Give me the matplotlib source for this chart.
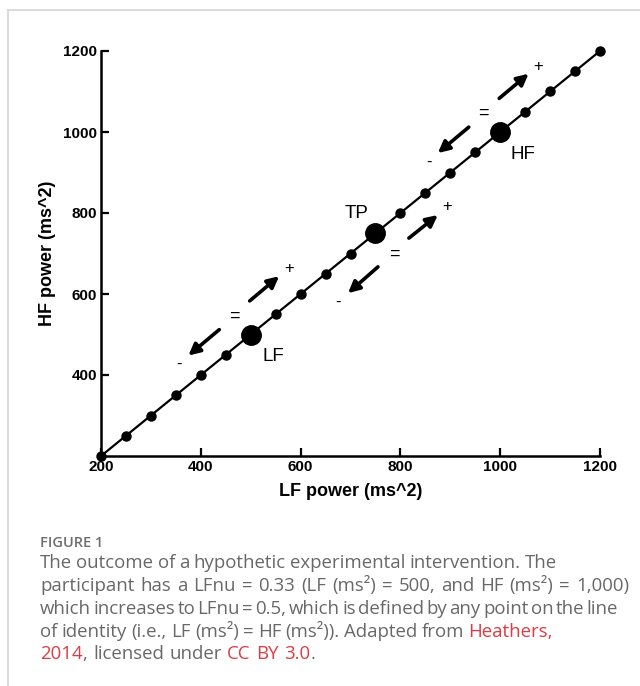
import matplotlib
matplotlib.use("Agg")
import matplotlib.pyplot as plt
import numpy as np
from matplotlib.lines import Line2D

# data: line of identity with a dot every 50 ms^2
lf_points = list(range(200, 1201, 50))
hf_points = list(range(200, 1201, 50))
key_names = ['LF', 'TP', 'HF']
key_lf = [500, 750, 1000]
key_hf = [500, 750, 1000]

x_ticks = [200, 400, 600, 800, 1000, 1200]
y_ticks = [400, 600, 800, 1000, 1200]

# annotation offsets (data units) relative to each key point:
# (up tail, up head, plus, equals, down tail, down head, minus, label)
offsets = {
    'LF': [(-2, 83), (57, 144), (77, 162), (-33, 45), (-63, 12), (-125, -52), (-143, -74), (45, -55)],
    'TP': [(67, -12), (125, 45), (143, 65), (37, -51), (5, -83), (-55, -148), (-75, -170), (-37, 50)],
    'HF': [(-2, 83), (57, 144), (77, 162), (-33, 45), (-63, 12), (-125, -52), (-143, -74), (45, -55)],
}

W, H = 640, 686
fig = plt.figure(figsize=(W / 100, H / 100), dpi=100)
ax = fig.add_axes([101 / W, 1 - 456 / H, (600 - 101) / W, (456 - 51) / H])

ax.plot(lf_points, hf_points, color='black', lw=1.6, marker='o', ms=6.5,
        clip_on=False, zorder=3)
ax.plot(key_lf, key_hf, 'o', color='black', ms=14, clip_on=False, zorder=4)

for name, x0, y0 in zip(key_names, key_lf, key_hf):
    o = offsets[name]
    ax.annotate('', xy=(x0 + o[1][0], y0 + o[1][1]), xytext=(x0 + o[0][0], y0 + o[0][1]),
                arrowprops=dict(arrowstyle='-|>', lw=2.6, color='black', mutation_scale=17,
                                shrinkA=0, shrinkB=0))
    ax.annotate('', xy=(x0 + o[5][0], y0 + o[5][1]), xytext=(x0 + o[4][0], y0 + o[4][1]),
                arrowprops=dict(arrowstyle='-|>', lw=2.6, color='black', mutation_scale=17,
                                shrinkA=0, shrinkB=0))
    ax.text(x0 + o[2][0], y0 + o[2][1], '+', ha='center', va='center', fontsize=12,
            family='Liberation Sans')
    ax.text(x0 + o[3][0], y0 + o[3][1], '=', ha='center', va='center', fontsize=13,
            family='Liberation Sans')
    ax.text(x0 + o[6][0], y0 + o[6][1], '-', ha='center', va='center', fontsize=12,
            family='Liberation Sans')
    ax.text(x0 + o[7][0], y0 + o[7][1], name, ha='center', va='center', fontsize=13.5,
            family='Liberation Sans')

ax.set_xlim(200, 1200)
ax.set_ylim(200, 1200)
ax.set_xticks(x_ticks)
ax.set_yticks(y_ticks)
for s in ['top', 'right']:
    ax.spines[s].set_visible(False)
for s in ['left', 'bottom']:
    ax.spines[s].set_linewidth(1.8)
ax.tick_params(direction='in', length=6, width=1.6, pad=3)
for lab in ax.get_xticklabels() + ax.get_yticklabels():
    lab.set_family('Liberation Sans')
    lab.set_fontweight('bold')
    lab.set_fontsize(11)
ax.set_xlabel('LF power (ms^2)', family='Liberation Sans', fontweight='bold', fontsize=13, labelpad=6)
ax.set_ylabel('HF power (ms^2)', family='Liberation Sans', fontweight='bold', fontsize=13, labelpad=5)

# page frame lines
fig.add_artist(Line2D([8 / W, 1], [1 - 10 / H, 1 - 10 / H], color='#d4d4d4', lw=1.2))
fig.add_artist(Line2D([8 / W, 8 / W], [0, 1 - 10 / H], color='#d4d4d4', lw=1.2))

# caption
gray = '#686868'
red = '#dc3c42'
cap_font = 'Open Sans'
cap_size = 13.4
fig.text(40 / W, 1 - 547 / H, 'FIGURE 1', color='#6e6e6e', fontsize=10.5, family=cap_font,
         fontweight='semibold', va='baseline')

caption_lines = [
    [('The outcome of a hypothetic experimental intervention. The', gray)],
    [('participant has a LFnu = 0.33 (LF (ms²) = 500, and HF (ms²) = 1,000)', gray)],
    [('which increases to LFnu = 0.5, which is defined by any point on the line', gray)],
    [('of identity (i.e., LF (ms²) = HF (ms²)). Adapted from ', gray), ('Heathers,', red)],
    [('2014', red), (', licensed under ', gray), ('CC BY 3.0', red), ('.', gray)],
]
baselines = [568, 591, 614, 637, 659]
line_ends = [557, 629, 618, 553, 315]

fig.canvas.draw()
renderer = fig.canvas.get_renderer()


def text_width(s):
    t = fig.text(0, 0, s, fontsize=cap_size, family=cap_font)
    w = t.get_window_extent(renderer).width
    t.remove()
    return w


for runs, yb, x_end in zip(caption_lines, baselines, line_ends):
    tokens = []
    for txt, col in runs:
        parts = txt.split(' ')
        for i, p in enumerate(parts):
            if i > 0:
                tokens.append((' ', None))
            if p:
                tokens.append((p, col))
    words = [(s, c, text_width(s)) for s, c in tokens if c is not None]
    n_gaps = sum(1 for s, c in tokens if c is None)
    gap = (x_end - 40 - sum(w for _, _, w in words)) / max(n_gaps, 1)
    x = 40
    for s, c in tokens:
        if c is None:
            x += gap
            continue
        t = fig.text(x / W, 1 - yb / H, s, color=c, fontsize=cap_size, family=cap_font,
                     va='baseline')
        x += t.get_window_extent(renderer).width

fig.savefig('out.png', dpi=100)
